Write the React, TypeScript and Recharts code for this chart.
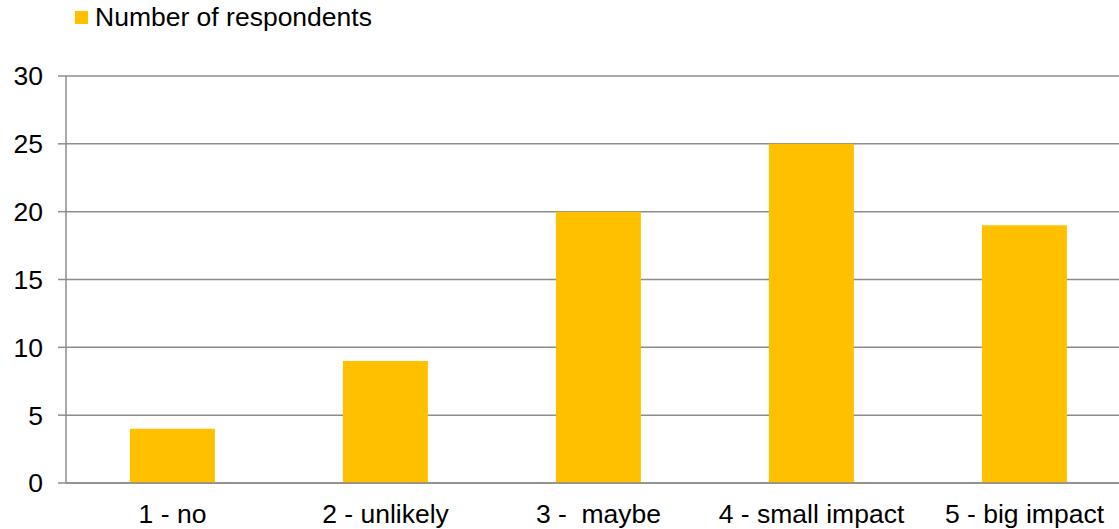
import React from 'react'
import { BarChart, Bar, XAxis, YAxis, CartesianGrid } from 'recharts'

const categories = ['1 - no', '2 - unlikely', '3 - \u00a0maybe', '4 - small impact', '5 - big impact']
const respondents = [4, 9, 20, 25, 19]
const yTicks = [0, 5, 10, 15, 20, 25, 30]
const boundaryTicks = [0, 1, 2, 3, 4, 5]

const data = categories.map((name, i) => ({ name, value: respondents[i] }))

const FONT = '"Liberation Sans", Arial, sans-serif'
const BAR = '#FFC000'
const AXIS = '#8c8c8c'

export default function App() {
  return (
    <div
      style={{
        position: 'fixed', top: 0, left: 0, width: 1119, height: 529,
        overflow: 'hidden', background: '#fff',
      }}
    >
      <div
        style={{
          position: 'absolute', top: 2, left: 75, display: 'flex', alignItems: 'center',
          fontFamily: FONT, fontSize: 26.5, color: '#000', whiteSpace: 'nowrap',
        }}
      >
        <span style={{ width: 13, height: 13, background: BAR, display: 'inline-block', marginRight: 7 }} />
        <span>Number of respondents</span>
      </div>
      <BarChart
        width={1131}
        height={529}
        data={data}
        margin={{ top: 76, right: 0, left: 0, bottom: 0 }}
        barCategoryGap="30%"
      >
        <CartesianGrid vertical={false} stroke={AXIS} strokeWidth={1.5} />
        <XAxis
          xAxisId="cat"
          dataKey="name"
          axisLine={{ stroke: AXIS, strokeWidth: 1.5 }}
          tickLine={false}
          tickMargin={15}
          tick={{ fill: '#000', fontSize: 26.5, fontFamily: FONT }}
          interval={0}
          height={46}
        />
        <XAxis
          xAxisId="edges"
          type="number"
          domain={[0, 5]}
          ticks={boundaryTicks}
          tick={false}
          axisLine={false}
          tickLine={{ stroke: AXIS, strokeWidth: 1.5 }}
          tickSize={8}
          height={0}
        />
        <YAxis
          domain={[0, 30]}
          ticks={yTicks}
          width={66}
          axisLine={{ stroke: AXIS, strokeWidth: 1.5 }}
          tickLine={{ stroke: AXIS, strokeWidth: 1.5 }}
          tickSize={8}
          tickMargin={15}
          tick={{ fill: '#000', fontSize: 26.5, fontFamily: FONT }}
        />
        <Bar xAxisId="cat" dataKey="value" fill={BAR} isAnimationActive={false} />
      </BarChart>
    </div>
  )
}
